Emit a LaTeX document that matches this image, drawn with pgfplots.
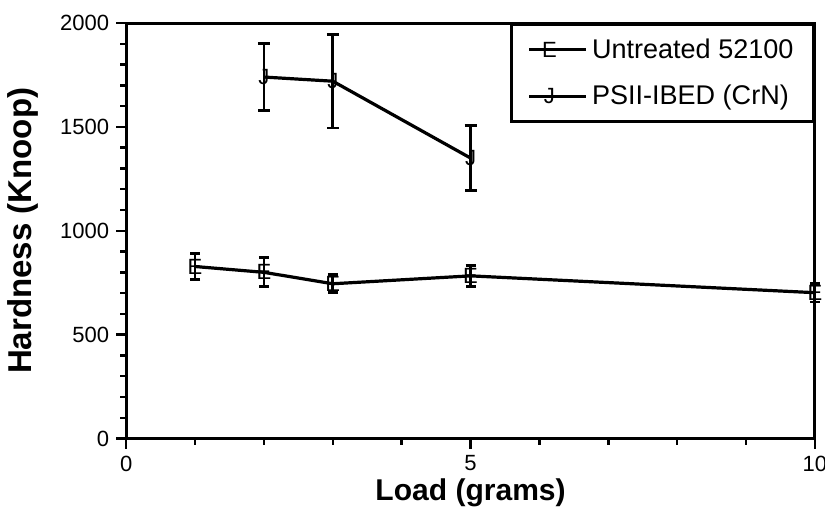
\documentclass[border=0pt]{standalone}
\usepackage{pgfplots}
\pgfplotsset{compat=1.18}
\usepackage{pgfplotstable}
\usepackage{fontspec}
\setmainfont{Liberation Sans}

\pgfplotstableread{
x y e
1 828 62
2 800 70
3 745 43
5 783 50
10 702 45
}\untreated

\pgfplotstableread{
x y e
2 1740 160
3 1720 225
5 1350 155
}\psii

\begin{document}
\begin{tikzpicture}
\begin{axis}[
  name=ax,
  scale only axis,
  width=344pt, height=207.5pt,
  xmin=0, xmax=10, ymin=0, ymax=2000,
  xtick={0,5,10}, ytick={0,500,1000,1500,2000},
  minor x tick num=4, minor y tick num=4,
  xtick pos=bottom, ytick pos=left,
  tick align=outside,
  major tick length=5pt, minor tick length=3pt,
  tick style={black, line width=1.2pt},
  axis line style={black, line width=1.5pt},
  /pgf/number format/assume math mode=true,
  /pgf/number format/1000 sep={},
  tick label style={font=\fontsize{11}{13}\selectfont},
  xlabel={Load (grams)},
  ylabel={Hardness (Knoop)},
  xlabel style={font=\fontsize{15}{17}\selectfont\bfseries, yshift=3pt},
  ylabel style={font=\fontsize{16.5}{18}\selectfont\bfseries, yshift=4pt},
  legend style={at={(1,1)}, anchor=north east, draw=black, line width=1.5pt,
    font=\fontsize{13.5}{15}\selectfont, row sep=8pt, inner xsep=8pt, inner ysep=5pt,
    /tikz/every even column/.append style={column sep=4pt}},
  legend cell align=left,
  legend image code/.code={
    \draw[#1] (0cm,0cm) -- (1cm,0cm);
    \draw[#1, mark repeat=2, mark phase=2] plot coordinates {(0cm,0cm) (0.35cm,0cm) (1cm,0cm)};
  },
  clip=false,
]
\addplot[black, line width=1.6pt, mark=text, text mark={\fontsize{11}{11}\selectfont E},
  error bars/.cd, y dir=both, y explicit,
  error bar style={line width=1.4pt},
  error mark options={rotate=90, black, line width=1.4pt, mark size=2.5pt}]
  table[x=x, y=y, y error=e]{\untreated};
\addlegendentry{Untreated 52100}
\addplot[black, line width=1.6pt, mark=text, text mark={\fontsize{11}{11}\selectfont J},
  error bars/.cd, y dir=both, y explicit,
  error bar style={line width=1.4pt},
  error mark options={rotate=90, black, line width=1.4pt, mark size=3pt}]
  table[x=x, y=y, y error=e]{\psii};
\addlegendentry{PSII-IBED (CrN)}
\end{axis}
\pgfresetboundingbox
\path[use as bounding box] ([xshift=-63pt,yshift=-38pt]ax.south west) rectangle ([xshift=5pt,yshift=11.5pt]ax.north east);
\end{tikzpicture}
\end{document}
